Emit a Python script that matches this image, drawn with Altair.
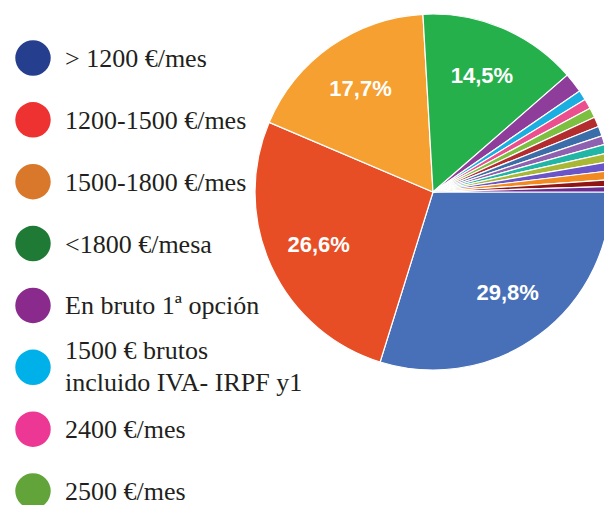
import math
import altair as alt
import pandas as pd

# ---- data ----
legend_labels = [
    "> 1200 €/mes",
    "1200-1500 €/mes",
    "1500-1800 €/mes",
    "<1800 €/mesa",
    "En bruto 1ª opción",
    "1500 € brutos\nincluido IVA- IRPF y1",
    "2400 €/mes",
    "2500 €/mes",
]
legend_colors = ["#263e8e", "#ee3131", "#d9782b", "#1f7a36",
                 "#8a2a8c", "#00b1e9", "#ec3894", "#62a43a"]

pie_categories = [
    "> 1200 €/mes", "1200-1500 €/mes", "1500-1800 €/mes", "<1800 €/mesa",
    "En bruto 1ª opción", "1500 € brutos incluido IVA- IRPF y1", "2400 €/mes", "2500 €/mes",
    "Otra 1", "Otra 2", "Otra 3", "Otra 4", "Otra 5", "Otra 6", "Otra 7", "Otra 8", "Otra 9",
]
pie_values = [29.8, 26.6, 17.7, 14.5, 1.8, 0.9, 0.9, 0.9, 0.9, 0.9,
              0.8, 0.8, 0.8, 0.8, 0.8, 0.6, 0.5]
pie_text = ["29,8%", "26,6%", "17,7%", "14,5%"] + [""] * 13
pie_colors = ["#4870b8", "#e84e25", "#f5a030", "#26b04b",
              "#8e3d9b", "#1aafe0", "#ec4f8e", "#7dbf40", "#b32d2e",
              "#3b6ea8", "#9060b0", "#21b5a5", "#a8b735", "#6a55c8",
              "#f28a22", "#8f1515", "#6b2c8f"]

pie_df = pd.DataFrame({
    "cat": pie_categories,
    "val": pie_values,
    "txt": pie_text,
    "idx": list(range(len(pie_values))),
})
leg_df = pd.DataFrame({
    "label": legend_labels,
    "row": list(range(len(legend_labels))),
})

theta_scale = alt.Scale(range=[math.pi / 2, math.pi / 2 + 2 * math.pi])
CX, CY = 425, 184

base = alt.Chart(pie_df).encode(
    theta=alt.Theta("val:Q", stack=True, scale=theta_scale),
    order=alt.Order("idx:Q"),
)

arcs = base.mark_arc(radius=178, stroke="white", strokeWidth=1.2).encode(
    color=alt.Color("cat:N", scale=alt.Scale(domain=pie_categories, range=pie_colors), legend=None),
    x=alt.value(CX),
    y=alt.value(CY),
)

labels = base.mark_text(radius=126, font="Liberation Sans", fontWeight="bold",
                        fontSize=22, color="white").encode(
    text="txt:N",
    x=alt.value(CX),
    y=alt.value(CY),
)

yscale = alt.Scale(domain=[0, 7], range=[50, 483])
leg_base = alt.Chart(leg_df).encode(
    y=alt.Y("row:Q", scale=yscale, axis=None),
)
dots = leg_base.mark_circle(size=1257, opacity=1).encode(
    x=alt.value(25),
    color=alt.Color("label:N", scale=alt.Scale(domain=legend_labels, range=legend_colors), legend=None),
)
text_style = dict(align="left", baseline="middle", font="Liberation Serif",
                  fontSize=26, color="#231f20", lineBreak="\n", lineHeight=32)
texts_single = leg_base.mark_text(dy=1, **text_style).encode(
    x=alt.value(57),
    text="label:N",
).transform_filter("indexof(datum.label, '\\n') < 0")
texts_multi = leg_base.mark_text(dy=-16, **text_style).encode(
    x=alt.value(57),
    text="label:N",
).transform_filter("indexof(datum.label, '\\n') >= 0")

chart = alt.layer(arcs, labels, dots, texts_single, texts_multi).resolve_scale(
    color="independent", theta="independent", y="independent"
).properties(
    width=596, height=497, padding=0, autosize=alt.AutoSizeParams(type="none"),
).configure_view(stroke=None)

chart.save("out.html", embed_options={"renderer": "svg", "actions": False})
